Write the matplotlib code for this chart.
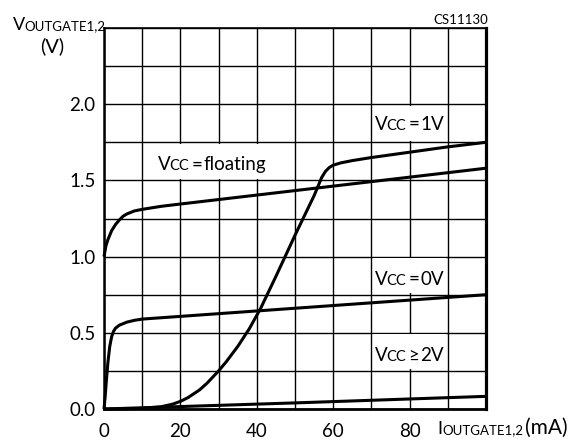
import matplotlib
matplotlib.use("Agg")
import matplotlib.pyplot as plt
from matplotlib.ticker import MultipleLocator
from matplotlib.patches import Rectangle

plt.rcParams['font.family'] = ['Lato', 'DejaVu Sans']

# ---- data ----
x_1v = [0, 5, 10, 15, 18, 20, 22, 25, 27, 30, 32, 35, 38, 41, 45, 50, 55, 56, 57, 58, 59, 60, 62, 65, 70, 80, 90, 100]
y_1v = [0, 0.001, 0.004, 0.015, 0.032, 0.05, 0.075, 0.125, 0.17, 0.25, 0.31, 0.41, 0.525, 0.66, 0.87, 1.14, 1.40, 1.46, 1.52, 1.56, 1.585, 1.60, 1.615, 1.63, 1.65, 1.685, 1.72, 1.75]

x_float = [0, 0.5, 1, 2, 3, 4, 5, 6, 7, 8, 10, 15, 20, 100]
y_float = [1.0, 1.07, 1.11, 1.17, 1.21, 1.24, 1.265, 1.28, 1.29, 1.30, 1.31, 1.33, 1.345, 1.58]

x_0v = [0, 0.3, 0.6, 1, 1.5, 2, 2.5, 3, 4, 5, 6, 8, 10, 100]
y_0v = [0, 0.08, 0.18, 0.30, 0.41, 0.475, 0.51, 0.53, 0.55, 0.56, 0.57, 0.582, 0.59, 0.75]

x_2v = [0, 50, 100]
y_2v = [0, 0.04, 0.083]

xticks = [0, 20, 40, 60, 80]
yticks = [0.0, 0.5, 1.0, 1.5, 2.0]
ytick_labels = ['0.0', '0.5', '1.0', '1.5', '2.0']

# ---- figure ----
fig = plt.figure(figsize=(5.71, 4.41), dpi=100)
W, H = 571, 441
ax = fig.add_axes([104 / W, 1 - 409 / H, (486 - 104) / W, (409 - 28) / H])
ax.set_xlim(0, 100)
ax.set_ylim(0, 2.5)

ax.set_xticks(xticks)
ax.set_xticklabels([str(v) for v in xticks], fontsize=13.5)
ax.set_yticks(yticks)
ax.set_yticklabels(ytick_labels, fontsize=13.5)
ax.xaxis.set_minor_locator(MultipleLocator(10))
ax.yaxis.set_minor_locator(MultipleLocator(0.25))
ax.tick_params(which='both', length=0)
ax.tick_params(axis='x', pad=10)
ax.tick_params(axis='y', pad=6)
ax.set_axisbelow(True)
ax.grid(which='both', color='black', linewidth=1.0)

for side, lw in [('left', 1.8), ('bottom', 2.0), ('right', 2.3), ('top', 1.2)]:
    ax.spines[side].set_linewidth(lw)

# white label boxes (cover grid cells)
boxes = [(10, 1.5, 40, 0.25), (70, 1.75, 20, 0.25), (70, 0.75, 20, 0.25), (70, 0.25, 20, 0.25)]
for bx, by, bw, bh in boxes:
    ax.add_patch(Rectangle((bx + 0.4, by + 0.01), bw - 0.8, bh - 0.02,
                           facecolor='white', edgecolor='none', zorder=1))

lw = 2.2
for xs, ys in [(x_1v, y_1v), (x_float, y_float), (x_0v, y_0v), (x_2v, y_2v)]:
    ax.plot(xs, ys, color='black', linewidth=lw, solid_capstyle='butt',
            solid_joinstyle='round', zorder=3, clip_on=False)


def compose(pieces, x0, y0, transform):
    """pieces: list of (text, size, gap_points)"""
    t = fig.text(x0, y0, pieces[0][0], fontsize=pieces[0][1], ha='left', va='baseline',
                 transform=transform, zorder=5)
    for txt, size, gap in pieces[1:]:
        t = ax.annotate(txt, xy=(1, y0), xycoords=(t, transform), xytext=(gap, 0),
                        textcoords='offset points', fontsize=size, ha='left', va='baseline',
                        zorder=5, annotation_clip=False)
    return t


def pix(x, y):
    return x / W, 1 - y / H


# Vcc labels inside plot (data coordinates)
vcc = [('V', 13.5, 0), ('CC', 10.5, -0.8)]
compose(vcc + [('=', 13.5, 1.5), ('1V', 13.5, 1.0)], 70.9, 1.83, ax.transData)
compose(vcc + [('=', 13.5, 1.5), ('floating', 13.5, 1.0)], 14.1, 1.565, ax.transData)
compose(vcc + [('=', 13.5, 1.5), ('0V', 13.5, 1.0)], 70.9, 0.815, ax.transData)
compose(vcc + [('≥', 13.5, 1.5), ('2V', 13.5, 1.0)], 70.9, 0.315, ax.transData)

# axis labels (figure pixel positions)
x0, y0 = pix(13, 30)
compose([('V', 13, 0), ('OUTGATE1,2', 9.5, -0.8)], x0, y0, fig.transFigure)
fig.text(52 / W, 1 - 52 / H, '(V)', fontsize=14.5, ha='center', va='baseline')

x0, y0 = pix(437, 434)
compose([('I', 13, 0), ('OUTGATE1,2', 9.5, 0.5), ('(mA)', 15, 1)], x0, y0, fig.transFigure)

fig.text(488 / W, 1 - 24 / H, 'CS11130', fontsize=9.5, ha='right', va='baseline')

fig.savefig('out.png', dpi=100, facecolor='white')
